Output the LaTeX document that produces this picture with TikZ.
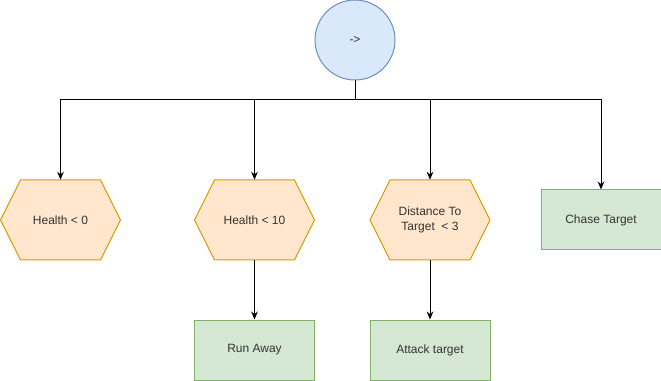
\documentclass[tikz,border=0pt]{standalone}
\usepackage{fontspec}
\setmainfont{Liberation Sans}
\usetikzlibrary{arrows.meta}
\definecolor{seqfill}{HTML}{DAE8FC}
\definecolor{seqline}{HTML}{6C8EBF}
\definecolor{condfill}{HTML}{FFE6CC}
\definecolor{condline}{HTML}{D79B00}
\definecolor{actfill}{HTML}{D5E8D4}
\definecolor{actline}{HTML}{82B366}
\tikzset{every node/.style={font=\fontsize{9}{11}\selectfont,text=black!80,align=center,inner sep=0pt},
  seq/.style={circle,draw=seqline,fill=seqfill,line width=0.75pt,minimum size=60pt},
  cond/.style={minimum width=90pt,minimum height=60pt},
  hexline/.style={draw=condline,fill=condfill,line width=0.75pt},
  act/.style={draw=actline,fill=actfill,line width=0.75pt,minimum width=90pt,minimum height=45pt},
  edge/.style={-{Stealth[length=6pt,width=5pt]},line width=0.75pt}}

\begin{document}
\begin{tikzpicture}[x=0.75pt,y=-0.75pt]
  \useasboundingbox (0,0) rectangle (661,381);
  \node[seq] (root) at (355,40) {->};
  \coordinate (split) at (355,100);

  % hexagon conditions
  \foreach \n/\x/\t in {h0/60.5/Health < 0,h10/254.5/Health < 10,dist/430/Distance To\\Target \ < 3} {
    \filldraw[hexline] (\x-60,220) -- (\x-40,180) -- (\x+40,180) -- (\x+60,220)
      -- (\x+40,260) -- (\x-40,260) -- cycle;
    \node[cond] (\n) at (\x,220) {\t};
  }

  \node[act] (chase) at (601,220) {Chase Target};
  \node[act] (run) at (254.5,350) {Run Away};
  \node[act] (attack) at (430,350) {Attack target};

\foreach \b in {h0,h10,dist,chase}
  \draw[edge] (root.south) -- (split) -| (\b.north);
\foreach \a/\b in {h10/run,dist/attack}
  \draw[edge] (\a.south) -- (\b.north);
\end{tikzpicture}
\end{document}
